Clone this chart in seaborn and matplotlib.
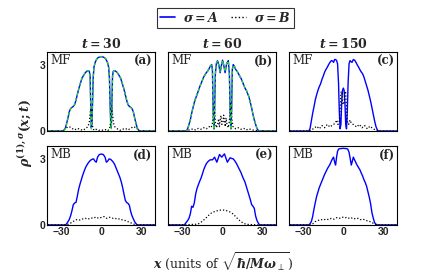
import numpy as np
import seaborn as sns
import matplotlib.pyplot as plt
from matplotlib.lines import Line2D

# ---- data ----
times = ['30', '60', '150']
panel_tags = ['(a)', '(b)', '(c)', '(d)', '(e)', '(f)']
methods = ['MF', 'MB']

# (a) t=30, MF
xA_a = [-40, -28.5, -27, -26, -25, -24, -23, -22, -21, -20, -19, -18, -17, -16, -14.5, -13, -12, -11, -10, -9,
        -8.4, -7.9, -7.5, -7.1, -6.6, -6.1, -5.5, -4.6, -3.5, -2.5, -1.5, 0, 1.5, 2.5, 3.5, 4.6, 5.5, 6.1, 6.6,
        7.1, 7.5, 7.9, 8.4, 9, 10, 11, 12, 13, 14.5, 16, 17, 18, 19, 20, 21, 22, 23, 24, 25, 26, 27, 28.5, 40]
yA_a = [0, 0, 0.12, 0.35, 0.6, 0.88, 1.02, 1.08, 1.12, 1.2, 1.4, 1.65, 1.9, 2.1, 2.4, 2.56, 2.65, 2.71, 2.74, 2.72,
        2.5, 1.1, 0.15, 0.3, 1.2, 2.4, 2.9, 3.12, 3.26, 3.33, 3.36, 3.38, 3.36, 3.33, 3.26, 3.12, 2.9, 2.4, 1.2,
        0.3, 0.15, 1.1, 2.5, 2.72, 2.74, 2.71, 2.65, 2.56, 2.4, 2.1, 1.9, 1.65, 1.4, 1.2, 1.12, 1.08, 1.02, 0.88,
        0.6, 0.35, 0.12, 0, 0]
yG_a = [0, 0, 0.1, 0.33, 0.58, 0.86, 1.0, 1.07, 1.12, 1.22, 1.42, 1.66, 1.9, 2.12, 2.42, 2.57, 2.66, 2.72, 2.75, 2.7,
        2.4, 0.9, 0.1, 0.2, 1.3, 2.45, 2.92, 3.13, 3.27, 3.34, 3.37, 3.39, 3.37, 3.34, 3.27, 3.13, 2.92, 2.45, 1.3,
        0.2, 0.1, 0.9, 2.4, 2.7, 2.75, 2.72, 2.66, 2.57, 2.42, 2.12, 1.9, 1.66, 1.42, 1.22, 1.12, 1.07, 1.0, 0.86,
        0.58, 0.33, 0.1, 0, 0]
xB_a = [-40, -30, -28, -26, -24, -22, -20, -18, -16, -14, -12, -10, -9, -8.5, -8, -7.5, -7, -6.5, -6, -5, -4, -2, 0,
        2, 4, 5, 6, 6.5, 7, 7.5, 8, 8.5, 9, 10, 12, 14, 16, 18, 20, 22, 24, 26, 28, 30, 40]
yB_a = [0, 0, 0.05, 0.15, 0.2, 0.12, 0.05, 0.12, 0.08, 0.03, 0.1, 0.2, 0.4, 0.75, 1.05, 0.9, 0.5, 0.2, 0.08, 0.03,
        0.08, 0.03, 0.05, 0.03, 0.08, 0.03, 0.08, 0.2, 0.5, 0.9, 1.05, 0.75, 0.4, 0.2, 0.1, 0.03, 0.08, 0.12, 0.05,
        0.12, 0.2, 0.15, 0.05, 0, 0]

# (b) t=60, MF
xA_b = [-40, -27, -26, -25, -24, -23, -22, -21, -20, -19, -18, -17, -16, -15, -14, -13, -12, -11, -10, -9, -8,
        -7.4, -6.9, -6.3, -5.8, -5.2, -4.5, -3.6, -2.6, -1.6, -0.8, 0.2, 1.2, 2.1, 3.2, 4.5, 5.3, 5.9, 6.4, 7, 7.5,
        8.2, 9, 10, 11, 12, 13, 14, 15, 16, 17, 18, 19, 20, 21, 22, 23, 24, 25, 26, 27, 28, 40]
yA_b = [0, 0, 0.1, 0.3, 0.5, 0.8, 1.05, 1.3, 1.48, 1.65, 1.82, 2.0, 2.15, 2.3, 2.45, 2.55, 2.65, 2.72, 2.82, 2.95,
        3.02, 2.8, 1.0, 0.1, 0.9, 2.6, 3.05, 3.2, 3.0, 2.65, 2.95, 3.22, 2.95, 2.65, 3.05, 3.2, 2.6, 0.9, 0.1, 1.0,
        2.8, 3.02, 2.95, 2.8, 2.72, 2.62, 2.5, 2.4, 2.25, 2.1, 1.95, 1.85, 1.7, 1.55, 1.3, 1.05, 0.75, 0.5, 0.3,
        0.12, 0.02, 0, 0]
yG_b = [0, 0, 0.08, 0.28, 0.5, 0.82, 1.07, 1.3, 1.5, 1.66, 1.83, 2.0, 2.16, 2.3, 2.45, 2.56, 2.65, 2.73, 2.83, 2.96,
        3.0, 2.7, 0.8, 0.05, 1.1, 2.7, 3.08, 3.18, 2.98, 2.7, 2.98, 3.2, 2.98, 2.7, 3.08, 3.18, 2.7, 1.1, 0.05, 0.8,
        2.7, 3.0, 2.96, 2.82, 2.72, 2.62, 2.5, 2.4, 2.26, 2.1, 1.96, 1.85, 1.7, 1.55, 1.3, 1.04, 0.76, 0.5, 0.3,
        0.12, 0.02, 0, 0]
xB_b = [-40, -28, -26, -24, -22, -20, -18, -16, -14, -12, -10, -8.5, -7.5, -7, -6.5, -6.1, -5.7, -5.2, -4.5, -3.5,
        -2.8, -2.2, -1.6, -1, -0.4, 0.4, 1, 1.6, 2.2, 2.8, 3.5, 4.5, 5.3, 5.9, 6.3, 6.8, 7.3, 8, 9, 10, 12, 14, 16,
        18, 20, 22, 24, 26, 28, 40]
yB_b = [0, 0, 0.03, 0.06, 0.1, 0.05, 0.12, 0.08, 0.15, 0.1, 0.2, 0.15, 0.3, 0.6, 1.0, 1.25, 0.9, 0.4, 0.15, 0.3,
        0.55, 0.2, 0.5, 0.7, 0.3, 0.35, 0.72, 0.45, 0.2, 0.6, 0.3, 0.15, 0.45, 0.95, 1.25, 0.95, 0.5, 0.2, 0.18,
        0.1, 0.15, 0.08, 0.12, 0.05, 0.1, 0.06, 0.03, 0.02, 0, 0]

# (c) t=150, MF
xA_c = [-40, -26, -25, -24, -23, -22, -21, -20, -19, -18, -17, -16, -15, -14, -13, -12, -11, -10, -9, -8, -7.3,
        -6.5, -5.8, -5, -4.3, -3.6, -3, -2.4, -1.8, -1.2, -0.6, 0, 0.6, 1.2, 1.8, 2.4, 3, 3.6, 4.3, 5, 5.8, 6.5,
        7.5, 8.5, 9.5, 10.5, 11.5, 12.5, 13.5, 14.5, 15.5, 16.5, 17.5, 18.5, 19.5, 20.5, 21.5, 22.5, 23.5, 24.5,
        25.5, 26.5, 40]
yA_c = [0, 0, 0.1, 0.45, 0.8, 1.1, 1.42, 1.65, 1.85, 2.02, 2.15, 2.35, 2.5, 2.68, 2.8, 2.9, 3.02, 3.12, 3.2, 3.18,
        3.12, 3.25, 3.25, 3.2, 3.05, 2.2, 0.9, 0.1, 0.3, 1.3, 1.85, 1.95, 1.85, 1.3, 0.3, 0.1, 0.9, 2.2, 3.05, 3.2,
        3.15, 3.12, 3.25, 3.22, 3.12, 3.0, 2.9, 2.78, 2.68, 2.6, 2.45, 2.25, 2.05, 1.85, 1.6, 1.35, 1.05, 0.75,
        0.45, 0.2, 0.05, 0, 0]
xB_c = [-40, -26, -24, -22, -20, -18, -16, -14, -12, -10, -8, -6, -5, -4, -3, -2.4, -1.8, -1.2, -0.6, 0, 0.6, 1.2,
        1.8, 2.4, 3, 4, 5, 6, 8, 10, 12, 14, 16, 18, 20, 22, 24, 26, 40]
yB_c = [0, 0, 0.05, 0.12, 0.22, 0.1, 0.25, 0.15, 0.3, 0.18, 0.28, 0.35, 0.5, 0.3, 0.45, 1.0, 1.75, 1.8, 1.3, 1.2,
        1.3, 1.8, 1.75, 1.0, 0.45, 0.3, 0.5, 0.35, 0.28, 0.18, 0.3, 0.15, 0.25, 0.1, 0.22, 0.12, 0.05, 0, 0]

# (d) t=30, MB
xA_d = [-40, -27, -26, -25, -24, -23, -22, -21, -20, -19, -18, -17, -16, -15, -14, -13, -12, -11, -10, -9, -8, -7,
        -5.8, -4.8, -3.8, -2.8, -1.5, 0, 1.5, 2.8, 3.8, 4.8, 5.8, 7, 8, 9, 10, 11, 12, 13, 14, 15, 16, 17, 18, 19,
        20, 21, 22, 23, 24, 25, 26, 27, 40]
yA_d = [0, 0, 0.05, 0.15, 0.25, 0.42, 0.65, 0.92, 1.0, 1.02, 1.3, 1.62, 1.85, 2.05, 2.25, 2.42, 2.58, 2.7, 2.8,
        2.88, 2.94, 2.98, 3.0, 2.9, 2.85, 3.08, 3.2, 3.22, 3.2, 3.08, 2.85, 2.9, 3.0, 2.98, 2.92, 2.85, 2.75, 2.6,
        2.45, 2.3, 2.15, 1.95, 1.7, 1.4, 1.12, 1.02, 0.98, 0.9, 0.62, 0.42, 0.28, 0.15, 0.06, 0, 0]
xB_d = [-40, -26, -24, -22, -20, -18, -16, -14, -12, -10, -8, -6, -4, -2, 0, 2, 4, 6, 8, 10, 12, 14, 16, 18, 20, 22,
        24, 26, 40]
yB_d = [0, 0, 0.05, 0.12, 0.2, 0.25, 0.22, 0.27, 0.3, 0.26, 0.32, 0.3, 0.36, 0.3, 0.34, 0.38, 0.3, 0.35, 0.3, 0.31,
        0.26, 0.28, 0.22, 0.2, 0.15, 0.1, 0.05, 0, 0]

# (e) t=60, MB
xA_e = [-40, -28.5, -27.5, -26, -25, -24, -23, -22, -21, -20, -19, -18, -17, -16, -15, -14, -13, -12, -11, -10, -9,
        -7.3, -5.8, -4.1, -2.1, -0.4, 1.6, 3.8, 5.8, 7, 8.2, 9.5, 10.7, 12, 13, 14, 15, 16, 17, 18, 19, 20, 21, 22,
        23, 24, 25, 26, 27, 28, 40]
yA_e = [0, 0, 0.08, 0.2, 0.3, 0.5, 0.85, 0.8, 1.0, 1.4, 1.65, 1.82, 1.98, 2.12, 2.3, 2.5, 2.65, 2.78, 2.86, 2.92,
        2.96, 2.96, 3.08, 2.85, 3.2, 3.08, 3.23, 2.85, 3.05, 3.02, 3.0, 2.9, 2.78, 2.62, 2.5, 2.38, 2.22, 2.08,
        1.95, 1.75, 1.55, 1.35, 1.15, 0.92, 0.85, 0.75, 0.4, 0.2, 0.08, 0, 0]
xB_e = [-40, -28, -24, -20, -18, -16, -14, -12, -10, -8, -6, -4, -2, 0, 2, 4, 6, 8, 10, 12, 14, 16, 18, 20, 24, 28, 40]
yB_e = [0, 0, 0.02, 0.03, 0.05, 0.12, 0.22, 0.33, 0.45, 0.55, 0.6, 0.64, 0.67, 0.68, 0.67, 0.63, 0.58, 0.5, 0.38,
        0.25, 0.15, 0.07, 0.03, 0.02, 0.01, 0, 0]

# (f) t=150, MB
xA_f = [-40, -26, -25, -24, -23, -22, -21, -20, -19, -18, -17, -16, -15, -14, -13, -12, -11, -10, -9, -8, -7.3,
        -6.5, -5.8, -5, -4.3, -3.5, -2, 0, 2, 3.3, 4.3, 5.2, 6, 6.8, 7.5, 8.5, 9.5, 10.5, 11.5, 12.5, 13.5, 14.5,
        15.5, 16.5, 17.5, 18.5, 19.5, 20.5, 21.5, 22.5, 23.5, 24.5, 25.5, 40]
yA_f = [0, 0, 0.05, 0.15, 0.38, 0.72, 1.02, 1.3, 1.5, 1.7, 1.85, 2.0, 2.15, 2.3, 2.42, 2.55, 2.65, 2.75, 2.9, 3.02,
        3.08, 2.85, 2.72, 3.1, 3.35, 3.45, 3.47, 3.48, 3.47, 3.45, 3.3, 3.0, 2.72, 2.9, 3.08, 2.95, 2.82, 2.7, 2.6,
        2.5, 2.35, 2.22, 2.05, 1.92, 1.75, 1.5, 1.25, 0.95, 0.55, 0.3, 0.1, 0.03, 0, 0]
xB_f = [-40, -25, -23, -21, -19, -17, -15, -13, -11, -9, -7, -5, -3, -1, 1, 3, 5, 7, 9, 11, 13, 15, 17, 19, 21, 23,
        25, 40]
yB_f = [0, 0, 0.05, 0.15, 0.2, 0.25, 0.22, 0.27, 0.24, 0.3, 0.26, 0.33, 0.3, 0.36, 0.32, 0.35, 0.28, 0.33, 0.27,
        0.3, 0.24, 0.26, 0.2, 0.18, 0.12, 0.06, 0, 0]

curves_A = [(xA_a, yA_a), (xA_b, yA_b), (xA_c, yA_c), (xA_d, yA_d), (xA_e, yA_e), (xA_f, yA_f)]
curves_B = [(xB_a, yB_a), (xB_b, yB_b), (xB_c, yB_c), (xB_d, yB_d), (xB_e, yB_e), (xB_f, yB_f)]
curves_G = {0: (xA_a, yG_a), 1: (xA_b, yG_b)}

# ---- style ----
sns.set_style('ticks')
plt.rcParams['font.family'] = ['DejaVu Serif']
plt.rcParams['mathtext.fontset'] = 'custom'
plt.rcParams['mathtext.it'] = 'DejaVu Serif:italic:bold'
plt.rcParams['mathtext.rm'] = 'DejaVu Serif:bold'
plt.rcParams['mathtext.bf'] = 'DejaVu Serif:bold'
plt.rcParams['axes.linewidth'] = 0.8

blue = '#0000ff'
green = '#22dd22'
dotted = (0, (1, 1.6))

fig = plt.figure(figsize=(4.32, 2.77), dpi=100)
lefts = [0.1095, 0.3896, 0.6697]
bottoms = [0.527, 0.188]
w, h = 0.25, 0.286

for i in range(6):
    r, c = divmod(i, 3)
    ax = fig.add_axes([lefts[c], bottoms[r], w, h])
    xa, ya = curves_A[i]
    sns.lineplot(x=xa, y=ya, ax=ax, color=blue, lw=1.0, estimator=None)
    xb, yb = curves_B[i]
    sns.lineplot(x=xb, y=yb, ax=ax, color='black', lw=0.9, linestyle=dotted, estimator=None)
    if i in curves_G:
        xg, yg = curves_G[i]
        sns.lineplot(x=xg, y=yg, ax=ax, color=green, lw=0.9, linestyle=(0, (2.5, 1.8)), estimator=None)

    ax.set_xlim(-40.5, 40.5)
    ax.set_ylim(0, 3.6)
    ax.set_xticks([-30, 0, 30])
    ax.set_yticks([0, 3])
    ax.tick_params(length=0, pad=1.5, labelsize=7.5)
    if r == 0:
        ax.set_xticklabels([])
        ax.set_title(r'$t = %s$' % times[c], fontsize=9, pad=2.5)
    else:
        ax.set_xticklabels(['\u221230', '0', '30'], family='Liberation Sans', fontweight='bold')
    if c == 0:
        ax.set_yticklabels(['0', '3'], family='Liberation Sans', fontweight='bold')
    else:
        ax.set_yticklabels([])
    for s in ax.spines.values():
        s.set_visible(True)
        s.set_color('black')

    ax.text(0.025, 0.975, methods[r], transform=ax.transAxes, ha='left', va='top',
            fontsize=8.5, family='DejaVu Serif')
    ax.text(0.975, 0.96, panel_tags[i], transform=ax.transAxes, ha='right', va='top',
            fontsize=8.5, family='DejaVu Serif', fontweight='bold')

fig.text(0.06, 0.52, r'$\rho^{(1),\sigma}(x;t)$', rotation=90, ha='center', va='center', fontsize=9)
fig.text(0.517, 0.055, r'$x$ (units of $\sqrt{\hbar/M\omega_\perp}$)', ha='center', va='center', fontsize=9)

handles = [Line2D([], [], color=blue, lw=1.2),
           Line2D([], [], color='black', lw=1.0, linestyle=dotted)]
leg = fig.legend(handles, [r'$\sigma = A$', r'$\sigma = B$'], loc='upper center',
                 bbox_to_anchor=(0.522, 0.995), ncol=2, fontsize=9, frameon=True, fancybox=False,
                 edgecolor='black', borderpad=0.25, handlelength=1.2, handletextpad=0.6,
                 columnspacing=1.0)
leg.get_frame().set_linewidth(0.8)

fig.savefig('out.png', dpi=100)
